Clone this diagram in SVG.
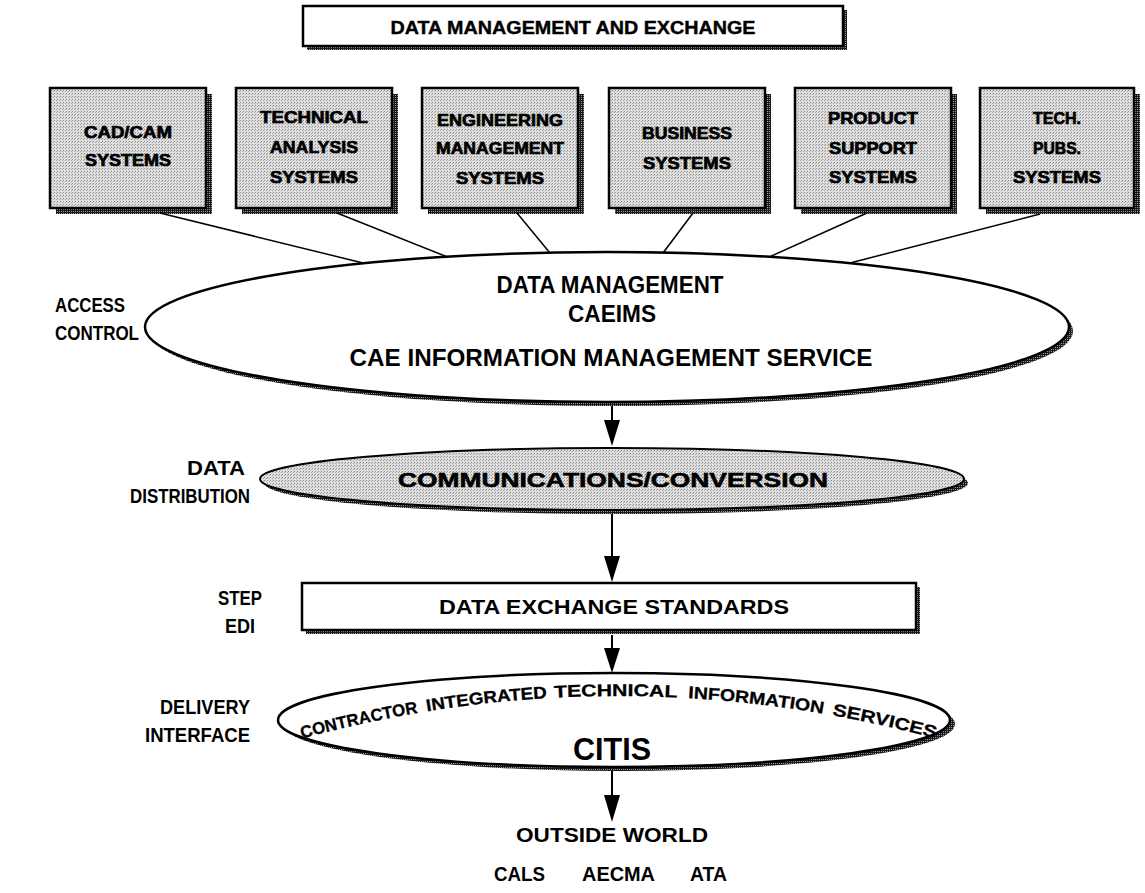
<svg xmlns="http://www.w3.org/2000/svg" width="1145" height="893" viewBox="0 0 1145 893">
<defs>
  <pattern id="stip" width="3" height="3" patternUnits="userSpaceOnUse">
    <rect width="3" height="3" fill="#dedede"/>
    <rect x="0" y="0" width="1" height="1" fill="#8a8a8a"/>
    <rect x="2" y="1" width="1" height="1" fill="#a5a5a5"/>
  </pattern>
  <pattern id="shad" width="2" height="2" patternUnits="userSpaceOnUse">
    <rect width="2" height="2" fill="#1a1a1a"/>
    <rect x="1" y="1" width="1" height="1" fill="#9a9a9a"/>
  </pattern>
  <path id="arc" d="M 300,739 Q 616,653 938,739"/>
</defs>
<style>
  text { font-family: "Liberation Sans", Arial, sans-serif; font-weight: bold; fill: #000; }
  .box { fill: url(#stip); stroke: #000; stroke-width: 2.5; }
  .shadow { fill: url(#shad); }
  .btxt { font-size: 17px; stroke: #000; stroke-width: 0.7; text-anchor: middle; }
  .lbl { font-size: 20px; }
  .wbox { fill: #fff; stroke: #000; stroke-width: 2.5; }
  .conn { stroke: #000; stroke-width: 1.5; fill: none; }
  .axis { stroke: #000; stroke-width: 2; fill: none; }
  .head { fill: #000; }
  .mid { text-anchor: middle; }
  .arct { font-size: 17px; stroke: #000; stroke-width: 0.3; }
</style>

<g id="banner">
  <rect class="shadow" x="307" y="10" width="540" height="40"/>
  <rect class="wbox" x="303" y="6" width="540" height="40"/>
  <text x="573" y="34" class="mid" font-size="18" stroke="#000" stroke-width="0.4" textLength="365" lengthAdjust="spacingAndGlyphs">DATA MANAGEMENT AND EXCHANGE</text>
</g>

<g id="cadcam">
  <rect class="shadow" x="56" y="94" width="156" height="120"/>
  <rect class="box" x="50" y="88" width="156" height="120"/>
  <text class="btxt" x="128" y="138" textLength="88" lengthAdjust="spacingAndGlyphs">CAD/CAM</text>
  <text class="btxt" x="128" y="166" textLength="86" lengthAdjust="spacingAndGlyphs">SYSTEMS</text>
</g>
<g id="technical">
  <rect class="shadow" x="242" y="94" width="156" height="120"/>
  <rect class="box" x="236" y="88" width="156" height="120"/>
  <text class="btxt" x="314" y="123" textLength="108" lengthAdjust="spacingAndGlyphs">TECHNICAL</text>
  <text class="btxt" x="314" y="153" textLength="88" lengthAdjust="spacingAndGlyphs">ANALYSIS</text>
  <text class="btxt" x="314" y="183" textLength="88" lengthAdjust="spacingAndGlyphs">SYSTEMS</text>
</g>
<g id="engineering">
  <rect class="shadow" x="428" y="94" width="156" height="120"/>
  <rect class="box" x="422" y="88" width="156" height="120"/>
  <text class="btxt" x="500" y="126" textLength="126" lengthAdjust="spacingAndGlyphs">ENGINEERING</text>
  <text class="btxt" x="500" y="154" textLength="128" lengthAdjust="spacingAndGlyphs">MANAGEMENT</text>
  <text class="btxt" x="500" y="184" textLength="88" lengthAdjust="spacingAndGlyphs">SYSTEMS</text>
</g>
<g id="business">
  <rect class="shadow" x="615" y="94" width="156" height="120"/>
  <rect class="box" x="609" y="88" width="156" height="120"/>
  <text class="btxt" x="687" y="139" textLength="90" lengthAdjust="spacingAndGlyphs">BUSINESS</text>
  <text class="btxt" x="687" y="169" textLength="88" lengthAdjust="spacingAndGlyphs">SYSTEMS</text>
</g>
<g id="product">
  <rect class="shadow" x="801" y="94" width="156" height="120"/>
  <rect class="box" x="795" y="88" width="156" height="120"/>
  <text class="btxt" x="873" y="124" textLength="90" lengthAdjust="spacingAndGlyphs">PRODUCT</text>
  <text class="btxt" x="873" y="154" textLength="88" lengthAdjust="spacingAndGlyphs">SUPPORT</text>
  <text class="btxt" x="873" y="183" textLength="88" lengthAdjust="spacingAndGlyphs">SYSTEMS</text>
</g>
<g id="techpubs">
  <rect class="shadow" x="986" y="94" width="154" height="120"/>
  <rect class="box" x="980" y="88" width="154" height="120"/>
  <text class="btxt" x="1057" y="124" textLength="48" lengthAdjust="spacingAndGlyphs">TECH.</text>
  <text class="btxt" x="1057" y="154" textLength="48" lengthAdjust="spacingAndGlyphs">PUBS.</text>
  <text class="btxt" x="1057" y="183" textLength="88" lengthAdjust="spacingAndGlyphs">SYSTEMS</text>
</g>

<g id="connectors">
  <line class="conn" x1="160" y1="213" x2="363" y2="263"/>
  <line class="conn" x1="337" y1="213" x2="450" y2="258"/>
  <line class="conn" x1="517" y1="213" x2="550" y2="253"/>
  <line class="conn" x1="693" y1="213" x2="663" y2="253"/>
  <line class="conn" x1="867" y1="213" x2="767" y2="258"/>
  <line class="conn" x1="1040" y1="214" x2="850" y2="263"/>
  <line class="axis" x1="612" y1="402" x2="612" y2="422"/>
  <polygon class="head" points="604,420 620,420 612,446"/>
  <line class="axis" x1="612" y1="512" x2="612" y2="558"/>
  <polygon class="head" points="604,556 620,556 612,582"/>
  <line class="axis" x1="612" y1="635" x2="612" y2="650"/>
  <polygon class="head" points="604,648 620,648 612,673"/>
  <line class="axis" x1="612" y1="769" x2="612" y2="797"/>
  <polygon class="head" points="604,795 620,795 612,822"/>
</g>

<g id="caeims">
  <ellipse class="shadow" cx="611" cy="331" rx="462" ry="75"/>
  <ellipse cx="607" cy="327" rx="462" ry="75" fill="#fff" stroke="#000" stroke-width="2.5"/>
  <text x="610" y="293" class="mid" font-size="24" textLength="227" lengthAdjust="spacingAndGlyphs">DATA MANAGEMENT</text>
  <text x="612" y="322" class="mid" font-size="24" textLength="88" lengthAdjust="spacingAndGlyphs">CAEIMS</text>
  <text x="611" y="366" class="mid" font-size="24" textLength="523" lengthAdjust="spacingAndGlyphs">CAE INFORMATION MANAGEMENT SERVICE</text>
</g>

<g id="comms">
  <ellipse class="shadow" cx="616" cy="483" rx="352" ry="31"/>
  <ellipse cx="612" cy="479" rx="352" ry="31" fill="url(#stip)" stroke="#000" stroke-width="2"/>
  <text x="613" y="487" class="mid" font-size="21" stroke="#000" stroke-width="0.6" textLength="430" lengthAdjust="spacingAndGlyphs">COMMUNICATIONS/CONVERSION</text>
</g>

<g id="standards">
  <rect class="shadow" x="306" y="587" width="614" height="47"/>
  <rect class="wbox" x="302" y="583" width="614" height="47"/>
  <text x="614" y="614" class="mid" font-size="20" textLength="350" lengthAdjust="spacingAndGlyphs">DATA EXCHANGE STANDARDS</text>
</g>

<g id="citis">
  <ellipse class="shadow" cx="619" cy="724" rx="336" ry="47"/>
  <ellipse cx="614" cy="720" rx="336" ry="47" fill="#fff" stroke="#000" stroke-width="2.5"/>
  <text class="arct"><textPath href="#arc" startOffset="2" textLength="119" lengthAdjust="spacingAndGlyphs">CONTRACTOR</textPath></text>
  <text class="arct"><textPath href="#arc" startOffset="130" textLength="121" lengthAdjust="spacingAndGlyphs">INTEGRATED</textPath></text>
  <text class="arct"><textPath href="#arc" startOffset="258" textLength="123" lengthAdjust="spacingAndGlyphs">TECHNICAL</textPath></text>
  <text class="arct"><textPath href="#arc" startOffset="392" textLength="136" lengthAdjust="spacingAndGlyphs">INFORMATION</textPath></text>
  <text class="arct"><textPath href="#arc" startOffset="537" textLength="106" lengthAdjust="spacingAndGlyphs">SERVICES</textPath></text>
  <text x="612" y="760" class="mid" font-size="31" textLength="78" lengthAdjust="spacingAndGlyphs">CITIS</text>
</g>

<g id="outside">
  <text x="612" y="842" class="mid" font-size="20" textLength="192" lengthAdjust="spacingAndGlyphs">OUTSIDE WORLD</text>
  <text x="494" y="881" font-size="20" textLength="51" lengthAdjust="spacingAndGlyphs">CALS</text>
  <text x="582" y="881" font-size="20" textLength="73" lengthAdjust="spacingAndGlyphs">AECMA</text>
  <text x="690" y="881" font-size="20" textLength="37" lengthAdjust="spacingAndGlyphs">ATA</text>
</g>

<g id="labels">
  <text class="lbl" x="55" y="312" textLength="70" lengthAdjust="spacingAndGlyphs">ACCESS</text>
  <text class="lbl" x="55" y="340" textLength="84" lengthAdjust="spacingAndGlyphs">CONTROL</text>
  <text class="lbl" x="187" y="475" textLength="58" lengthAdjust="spacingAndGlyphs">DATA</text>
  <text class="lbl" x="130" y="503" textLength="120" lengthAdjust="spacingAndGlyphs">DISTRIBUTION</text>
  <text class="lbl mid" x="240" y="605" textLength="44" lengthAdjust="spacingAndGlyphs">STEP</text>
  <text class="lbl mid" x="240" y="633" textLength="30" lengthAdjust="spacingAndGlyphs">EDI</text>
  <text class="lbl" x="160" y="714" textLength="90" lengthAdjust="spacingAndGlyphs">DELIVERY</text>
  <text class="lbl" x="145" y="742" textLength="105" lengthAdjust="spacingAndGlyphs">INTERFACE</text>
</g>
</svg>
